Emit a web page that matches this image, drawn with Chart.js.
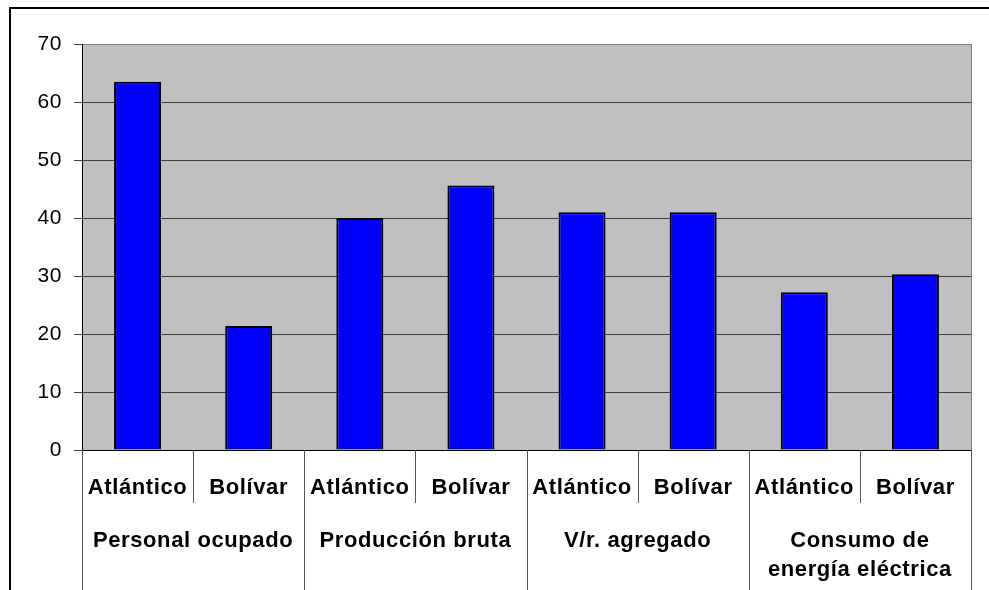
<!DOCTYPE html>
<html><head><meta charset="utf-8">
<script src="https://cdn.jsdelivr.net/npm/chart.js@4"></script>
<style>
html,body{margin:0;padding:0;background:#fff;overflow:hidden;}
#frame{position:absolute;left:9px;top:7px;width:1000px;height:600px;border-top:2px solid #000;border-left:2px solid #000;}
#wrap{position:absolute;left:0;top:0;width:989px;height:590px;}
</style></head><body>
<div id="frame"></div>
<div id="wrap"><canvas id="c" width="989" height="590"></canvas></div>
<script>
const categories = ['Atlántico','Bolívar','Atlántico','Bolívar','Atlántico','Bolívar','Atlántico','Bolívar'];
const groups = [['Personal ocupado'],['Producción bruta'],['V/r. agregado'],['Consumo de','energía eléctrica']];
const values = [63.5, 21.4, 40.0, 45.6, 41.0, 41.0, 27.2, 30.3];
const yMin = 0, yMax = 70, yStep = 10;

const FONT = "'Liberation Sans', Arial, sans-serif";

const deco = {
  id: 'deco',
  beforeDraw(chart) {
    const {ctx, chartArea: a} = chart;
    ctx.save();
    ctx.fillStyle = '#C0C0C0';
    ctx.fillRect(a.left, a.top, a.right - a.left, a.bottom - a.top);
    ctx.restore();
    ctx.letterSpacing = '0.6px';
  },
  afterDraw(chart) {
    const {ctx, chartArea: a} = chart;
    const x = chart.scales.x;
    ctx.save();
    ctx.strokeStyle = '#808080';
    ctx.lineWidth = 1;
    ctx.beginPath();
    ctx.moveTo(Math.round(a.right) + 0.5, a.top);
    ctx.lineTo(Math.round(a.right) + 0.5, a.bottom);
    ctx.stroke();
    ctx.strokeStyle = '#555';
    for (let i = 0; i <= categories.length; i++) {
      const px = Math.round(x.getPixelForValue(i - 0.5)) + 0.5;
      const bottom = (i % 2 === 0) ? chart.height : a.bottom + 53;
      ctx.beginPath();
      ctx.moveTo(px, a.bottom);
      ctx.lineTo(px, bottom);
      ctx.stroke();
    }
    ctx.fillStyle = '#000';
    ctx.font = 'bold 22px ' + FONT;
    ctx.letterSpacing = '0.6px';
    ctx.textAlign = 'center';
    ctx.textBaseline = 'alphabetic';
    groups.forEach((g, gi) => {
      const cx = x.getPixelForValue(gi * 2 + 0.5);
      g.forEach((line, li) => {
        ctx.fillText(line, cx, 547 + li * 29);
      });
    });
    ctx.restore();
  }
};

new Chart(document.getElementById('c'), {
  type: 'bar',
  data: {
    labels: categories,
    datasets: [{
      data: values,
      backgroundColor: '#0000FF',
      borderColor: '#000000',
      borderWidth: 2,
      barPercentage: 0.423,
      categoryPercentage: 1.0
    }]
  },
  options: {
    responsive: false,
    animation: false,
    layout: { padding: { top: 44, right: 18, left: 0, bottom: 0 } },
    plugins: { legend: { display: false }, tooltip: { enabled: false } },
    scales: {
      x: {
        offset: true,
        grid: { display: false, drawTicks: false },
        border: { display: true, color: '#000', width: 1 },
        ticks: {
          color: '#000',
          font: { family: FONT, size: 22, weight: 'bold' },
          padding: 25,
          maxRotation: 0, minRotation: 0, autoSkip: false
        },
        afterFit(s) { s.height = 140; }
      },
      y: {
        min: yMin, max: yMax,
        ticks: {
          stepSize: yStep,
          color: '#000',
          font: { family: FONT, size: 21 },
          padding: 12
        },
        grid: {
          color: (c) => (c.tick && c.tick.value === yMax) ? '#808080' : '#404040',
          tickColor: '#404040',
          tickLength: 8,
          lineWidth: 1
        },
        border: { display: true, color: '#000', width: 1 },
        afterFit(s) { s.width = 82; }
      }
    }
  },
  plugins: [deco]
});
</script>
</body></html>
